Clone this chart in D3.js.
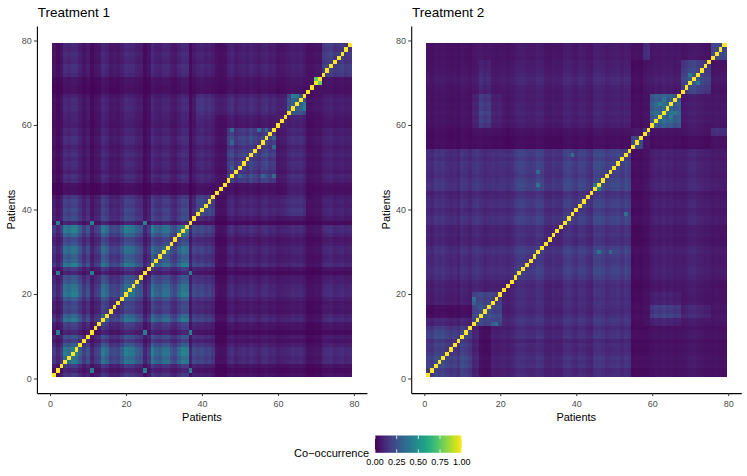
<!DOCTYPE html>
<html>
<head>
<meta charset="utf-8">
<script src="https://cdn.jsdelivr.net/npm/d3@7"></script>
<style>
  body { margin: 0; background: #fff; }
  svg { display: block; font-family: "Liberation Sans", Arial, Helvetica, sans-serif; }
</style>
</head>
<body>
<div id="chart-area"></div>
<script>
// patients 1..79 on both axes
const patients = d3.range(1, 80)
const tickVals = [0, 20, 40, 60, 80]
const legendTicks = [0, 0.25, 0.5, 0.75, 1]

// Treatment 1: first patient of each cluster, cluster-to-cluster level, patient strength
const t1Starts = [1, 39, 44, 47, 60, 63, 68, 72]
const t1Block = [
  [0.20, 0.14, 0.04, 0.08, 0.07, 0.07, 0.04, 0.08],
  [0.14, 0.22, 0.06, 0.10, 0.11, 0.13, 0.05, 0.09],
  [0.04, 0.06, 0.07, 0.06, 0.05, 0.09, 0.04, 0.05],
  [0.08, 0.10, 0.06, 0.17, 0.07, 0.10, 0.05, 0.08],
  [0.07, 0.11, 0.05, 0.07, 0.10, 0.09, 0.04, 0.06],
  [0.07, 0.13, 0.09, 0.10, 0.09, 0.22, 0.05, 0.07],
  [0.04, 0.05, 0.04, 0.05, 0.04, 0.05, 0.06, 0.05],
  [0.08, 0.09, 0.05, 0.08, 0.06, 0.07, 0.05, 0.16]
]
const t1Weight = [
  0.6, 0.35, 0.6, 1.4, 1.25, 1.5, 1.45, 1.0, 0.6, 0.9,
  0.35, 0.6, 0.7, 1.4, 1.15, 0.7, 0.8, 0.7, 1.0, 1.45,
  1.35, 1.3, 1.0, 0.9, 0.35, 0.6, 1.45, 1.1, 1.0, 1.3,
  1.3, 0.9, 0.75, 1.15, 1.5, 1.45, 0.35, 0.8,
  1.0, 1.1, 0.9, 1.0, 0.8,
  0.8, 0.7, 0.8,
  1.0, 1.2, 0.8, 1.0, 1.1, 0.9, 1.2, 1.0, 0.8, 1.1, 1.2, 0.9, 1.0,
  0.8, 0.9, 1.0,
  1.0, 1.2, 1.1, 1.2, 0.9,
  0.8, 0.8, 1.0, 1.0,
  1.0, 1.1, 1.2, 0.9, 1.0, 1.1, 0.9, 1.0
]
// single pairs that stand out
const t1Pairs = [
  [2, 11, 0.42], [2, 25, 0.42], [2, 37, 0.42], [11, 25, 0.42], [11, 37, 0.42], [25, 37, 0.42],
  [70, 71, 0.76],
  [48, 59, 0.36], [55, 59, 0.34], [57, 59, 0.32], [48, 50, 0.31], [48, 56, 0.33],
  [64, 67, 0.42], [65, 67, 0.40]
]

// Treatment 2
const t2Starts = [1, 13, 15, 18, 21, 55, 58, 60, 68, 76]
const t2Block = [
  [0.17, 0.09, 0.03, 0.08, 0.11, 0.03, 0.03, 0.04, 0.05, 0.04],
  [0.09, 0.19, 0.18, 0.19, 0.13, 0.03, 0.04, 0.08, 0.06, 0.05],
  [0.03, 0.18, 0.20, 0.19, 0.10, 0.03, 0.04, 0.14, 0.09, 0.05],
  [0.08, 0.19, 0.19, 0.19, 0.12, 0.03, 0.04, 0.08, 0.06, 0.05],
  [0.11, 0.13, 0.10, 0.12, 0.15, 0.03, 0.04, 0.07, 0.08, 0.06],
  [0.03, 0.03, 0.03, 0.03, 0.03, 0.20, 0.05, 0.03, 0.03, 0.04],
  [0.03, 0.04, 0.04, 0.04, 0.04, 0.05, 0.13, 0.04, 0.05, 0.12],
  [0.04, 0.08, 0.14, 0.08, 0.07, 0.03, 0.04, 0.24, 0.06, 0.05],
  [0.05, 0.06, 0.09, 0.06, 0.08, 0.03, 0.05, 0.06, 0.18, 0.05],
  [0.04, 0.05, 0.05, 0.05, 0.06, 0.04, 0.12, 0.05, 0.05, 0.20]
]
const t2Weight = [
  1.0, 0.9, 1.2, 1.1, 1.2, 1.0, 0.9, 1.0, 0.8, 1.2, 1.1, 0.9,
  1.0, 1.1,
  1.2, 1.0, 1.1,
  1.0, 0.9, 1.0,
  0.8, 0.7, 0.8, 1.0, 1.15, 1.15, 1.0, 0.95, 1.0, 1.2,
  1.1, 0.8, 0.75, 0.9, 0.8, 0.8, 1.15, 1.2, 1.0, 0.9,
  1.15, 1.1, 0.9, 0.8, 1.25, 1.3, 1.2, 1.0, 1.1, 1.15,
  1.2, 1.0, 1.2, 1.1,
  1.0, 1.1, 1.0,
  1.0, 1.1,
  1.0, 1.2, 1.1, 1.3, 1.1, 1.2, 1.0, 1.1,
  0.9, 1.0, 1.2, 1.3, 1.1, 1.0, 0.9, 0.9,
  1.0, 1.1, 1.0, 1.0
]
const t2Pairs = [
  [30, 46, 0.38], [45, 46, 0.40], [39, 53, 0.36], [13, 19, 0.35], [13, 18, 0.30], [30, 49, 0.33],
  [62, 65, 0.42], [63, 66, 0.40], [70, 72, 0.40]
]

const panels = [
  { title: "Treatment 1", starts: t1Starts, block: t1Block, weight: t1Weight, pairs: t1Pairs,
    left: 36.9, right: 367, yTitleX: 15 },
  { title: "Treatment 2", starts: t2Starts, block: t2Block, weight: t2Weight, pairs: t2Pairs,
    left: 411.2, right: 741.3, yTitleX: 390 }
]

const TOP = 25.9, BOTTOM = 393.1

const svg = d3.select("#chart-area").append("svg")
  .attr("width", 747)
  .attr("height", 476)

const color = d3.scaleSequential(d3.interpolateViridis).domain([0, 1])

const y = d3.scaleLinear()
  .domain([0.5 - 3.95, 79.5 + 3.95])
  .range([BOTTOM, TOP])

function cellsFor(p) {
  const grp = n => d3.bisectRight(p.starts, n) - 1
  const extra = new Map()
  p.pairs.forEach(([a, b, v]) => { extra.set(a + "-" + b, v); extra.set(b + "-" + a, v) })
  const cells = []
  patients.forEach(i => {
    patients.forEach(j => {
      let v
      if (i === j) v = 1
      else if (extra.has(i + "-" + j)) v = extra.get(i + "-" + j)
      else v = p.block[grp(i)][grp(j)] * p.weight[i - 1] * p.weight[j - 1]
      cells.push({ i, j, v: Math.max(0, Math.min(1, v)) })
    })
  })
  return cells
}

panels.forEach(p => {
  const x = d3.scaleLinear()
    .domain([0.5 - 3.95, 79.5 + 3.95])
    .range([p.left, p.right])

  const g = svg.append("g")

  // tiles
  g.append("g")
    .attr("shape-rendering", "crispEdges")
    .selectAll("rect")
    .data(cellsFor(p))
    .enter().append("rect")
      .attr("x", d => x(d.j - 0.5))
      .attr("y", d => y(d.i + 0.5))
      .attr("width", d => x(d.j + 0.5) - x(d.j - 0.5) + 0.5)
      .attr("height", d => y(d.i - 0.5) - y(d.i + 0.5) + 0.5)
      .attr("fill", d => color(d.v))

  // axes
  const xAxis = g.append("g")
    .attr("transform", `translate(0,${BOTTOM})`)
    .call(d3.axisBottom(x).tickValues(tickVals).tickSize(3).tickSizeOuter(0).tickPadding(4.5))
  const yAxis = g.append("g")
    .attr("transform", `translate(${p.left},0)`)
    .call(d3.axisLeft(y).tickValues(tickVals).tickSize(3).tickSizeOuter(0).tickPadding(2.2))

  ;[xAxis, yAxis].forEach(a => {
    a.select(".domain").attr("stroke", "#000").attr("stroke-width", 1.1)
    a.selectAll(".tick line").attr("stroke", "#333333").attr("stroke-width", 1)
    a.selectAll(".tick text").attr("fill", "#4D4D4D").attr("font-size", "9px")
      .style("font-family", "'Liberation Sans', Arial, sans-serif")
  })

  // titles
  g.append("text")
    .attr("x", p.left + 0.8)
    .attr("y", 16.6)
    .attr("font-size", "13.5px")
    .attr("fill", "#000")
    .text(p.title)

  g.append("text")
    .attr("x", (p.left + p.right) / 2)
    .attr("y", 420.5)
    .attr("font-size", "11px")
    .attr("text-anchor", "middle")
    .text("Patients")

  g.append("text")
    .attr("transform", `translate(${p.yTitleX},${(TOP + BOTTOM) / 2}) rotate(-90)`)
    .attr("font-size", "11px")
    .attr("text-anchor", "middle")
    .text("Patients")
})

// Legend
const legX = d3.scaleLinear().domain([0, 1]).range([375, 461.7])
const grad = svg.append("defs").append("linearGradient")
  .attr("id", "viridis-grad")
grad.selectAll("stop")
  .data(d3.range(0, 1.0001, 0.05))
  .enter().append("stop")
    .attr("offset", d => d)
    .attr("stop-color", d => color(d))

const legend = svg.append("g")
legend.append("rect")
  .attr("x", legX(0))
  .attr("y", 435.5)
  .attr("width", legX(1) - legX(0))
  .attr("height", 17.3)
  .attr("fill", "url(#viridis-grad)")

legendTicks.forEach(t => {
  legend.append("line")
    .attr("x1", legX(t)).attr("x2", legX(t))
    .attr("y1", 435.5).attr("y2", 439)
    .attr("stroke", "#fff").attr("stroke-width", 0.8)
  legend.append("line")
    .attr("x1", legX(t)).attr("x2", legX(t))
    .attr("y1", 449.3).attr("y2", 452.8)
    .attr("stroke", "#fff").attr("stroke-width", 0.8)
  legend.append("text")
    .attr("x", legX(t))
    .attr("y", 465)
    .attr("font-size", "9px")
    .attr("fill", "#000")
    .attr("text-anchor", "middle")
    .text(d3.format(".2f")(t))
})

legend.append("text")
  .attr("x", 369)
  .attr("y", 457)
  .attr("font-size", "11px")
  .attr("text-anchor", "end")
  .text("Co\u2212occurrence")
</script>
</body>
</html>
